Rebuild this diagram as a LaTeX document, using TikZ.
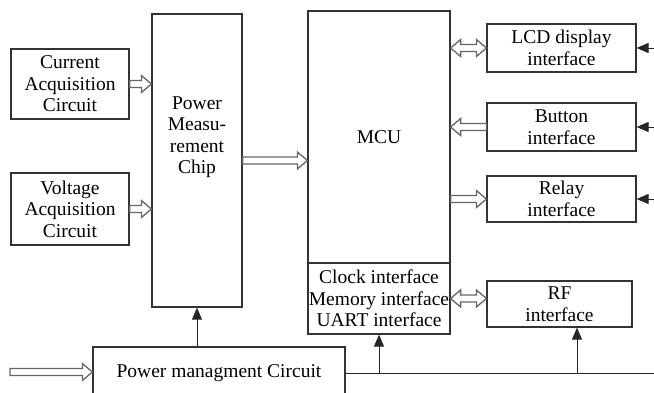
\documentclass[tikz,border=0pt]{standalone}
\usepackage{fontspec}
\setmainfont{Liberation Serif}
\usetikzlibrary{calc,arrows.meta}

\tikzset{
  blk/.style={draw=black!80, line width=1.2pt, rectangle, inner sep=0pt, align=center},
  hollow/.style={draw=black!60, fill=white, line width=1.3pt, line join=miter,
    to path={let \p1=(\tikztostart), \p2=(\tikztotarget), \n1={sign(\x2-\x1)} in
      (\x1,\y1+3.5pt) -- (\x2-\n1*10pt,\y1+3.5pt) -- (\x2-\n1*10pt,\y1+8.5pt) -- (\x2,\y1)
      -- (\x2-\n1*10pt,\y1-8.5pt) -- (\x2-\n1*10pt,\y1-3.5pt) -- (\x1,\y1-3.5pt) -- cycle}},
  hollowboth/.style={draw=black!60, fill=white, line width=1.3pt, line join=miter,
    to path={let \p1=(\tikztostart), \p2=(\tikztotarget), \n1={sign(\x2-\x1)} in
      (\x1,\y1) -- (\x1+\n1*10pt,\y1+8.5pt) -- (\x1+\n1*10pt,\y1+3.5pt) -- (\x2-\n1*10pt,\y1+3.5pt)
      -- (\x2-\n1*10pt,\y1+8.5pt) -- (\x2,\y1) -- (\x2-\n1*10pt,\y1-8.5pt) -- (\x2-\n1*10pt,\y1-3.5pt)
      -- (\x1+\n1*10pt,\y1-3.5pt) -- (\x1+\n1*10pt,\y1-8.5pt) -- cycle}},
  sig/.style={draw=black!85, line width=1pt, -{Triangle[length=12pt, width=10pt]}}
}

\begin{document}
\begin{tikzpicture}[x=1pt, y=-1pt, font=\fontsize{19.5}{21.5}\selectfont]
  \useasboundingbox (0,0) rectangle (654,392);

  % Draw blocks
  \node[blk, minimum width=118pt, minimum height=70pt] (cur) at (70,84) {Current\\Acquisition\\Circuit};
  \node[blk, minimum width=118pt, minimum height=72pt] (volt) at (70,209) {Voltage\\Acquisition\\Circuit};
  \node[blk, minimum width=90pt, minimum height=293pt] (chip) at (197,160.5) {};
  \node[align=center] (chiptxt) at (197,137) {Power\\Measu-\\rement\\Chip};
  \node[blk, minimum width=142pt, minimum height=252pt] (mcu) at (379,137) {MCU};
  \node[blk, minimum width=142pt, minimum height=71pt] (mif) at (379,298.5) {Clock interface\\Memory interface\\UART interface};
  \node[blk, minimum width=149pt, minimum height=48pt] (lcd) at (561.5,48) {LCD display\\interface};
  \node[blk, minimum width=149pt, minimum height=48pt] (btn) at (561.5,127) {Button\\interface};
  \node[blk, minimum width=149pt, minimum height=46pt] (rly) at (561.5,199) {Relay\\interface};
  \node[blk, minimum width=145pt, minimum height=46pt] (rf) at (559.5,304) {RF\\interface};
  \node[blk, minimum width=252pt, minimum height=66pt] (pwr) at (219,380) {};
  \node (pwrtxt) at (219,373) {Power managment Circuit};

  % Bus coordinates
  \coordinate (pin) at (10,372);
  \coordinate (br) at (654,373);
  \coordinate (rfin) at (577,373);

  % Data paths
  \draw[hollow] (cur.east) to (cur.east -| chip.west);
  \draw[hollow] (volt.east) to (volt.east -| chip.west);
  \draw[hollow] (chip.east) to (chip.east -| mcu.west);
  \draw[hollowboth] (mcu.east |- lcd.west) to (lcd.west);
  \draw[hollow] (btn.west) to (btn.west -| mcu.east);
  \draw[hollow] (mcu.east |- rly.west) to (rly.west);
  \draw[hollowboth] (mif.east) to (mif.east -| rf.west);
  \draw[hollow] (pin) to (pwr.west |- pin);

  % Power lines
  \draw[sig] (chip.south |- pwr.north) -- (chip.south);
  \draw[draw=black!85, line width=1pt] (pwr.east |- br) -- (br) -- (lcd.east -| br);
  \draw[sig] (mif.south |- br) -- (mif.south);
  \draw[sig] (rfin) -- (rfin |- rf.south);
  \draw[sig] (lcd.east -| br) -- (lcd.east);
  \draw[sig] (btn.east -| br) -- (btn.east);
  \draw[sig] (rly.east -| br) -- (rly.east);
\end{tikzpicture}
\end{document}
